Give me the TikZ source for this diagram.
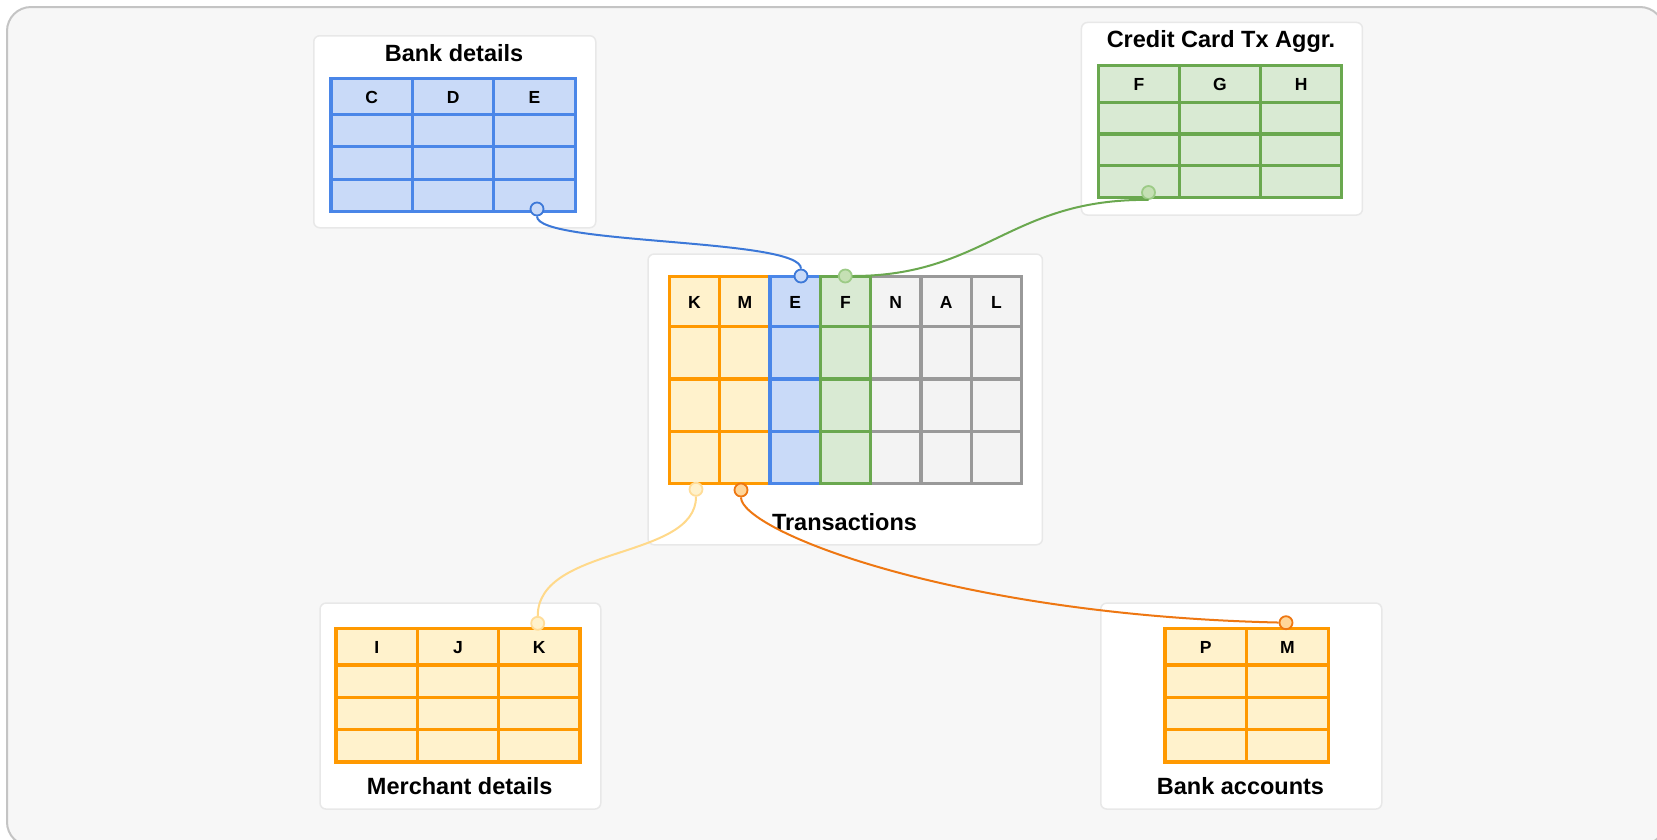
\documentclass[tikz,border=0pt]{standalone}
\usepackage{fontspec}
\setmainfont{Liberation Sans}

\definecolor{pagebg}{HTML}{F7F7F7}
\definecolor{frame}{HTML}{C4C4C4}
\definecolor{cardline}{HTML}{E8E8E8}
\definecolor{bluestroke}{HTML}{4A86E8}
\definecolor{bluefill}{HTML}{C9DAF8}
\definecolor{greenstroke}{HTML}{6AA84F}
\definecolor{greenfill}{HTML}{D9EAD3}
\definecolor{orangestroke}{HTML}{FF9900}
\definecolor{orangefill}{HTML}{FFF2CC}
\definecolor{graystroke}{HTML}{999999}
\definecolor{grayfill}{HTML}{F3F3F3}
\definecolor{linkblue}{HTML}{3C78D8}
\definecolor{linkgreen}{HTML}{6AA84F}
\definecolor{linkpale}{HTML}{FFD98A}
\definecolor{linkdark}{HTML}{EE7712}
\definecolor{dotgreenfill}{HTML}{C5E0B4}
\definecolor{dotgreenline}{HTML}{9CCB86}
\definecolor{dotpaleline}{HTML}{FFDD99}
\definecolor{dotdarkfill}{HTML}{FFD699}

\tikzset{
  card/.style={draw=cardline, line width=1.5pt, fill=white, rounded corners=6pt},
  tbl/.style={line width=3.2pt},
  title/.style={font=\fontsize{23.5}{28}\selectfont\bfseries, anchor=base, inner sep=0pt},
  colname/.style={font=\fontsize{17.5}{20}\selectfont\bfseries, inner sep=0pt},
  dot/.style={circle, minimum size=13pt, inner sep=0pt, line width=1.8pt},
  link/.style={line width=2pt},
}

% A table: x0, y0, columns, column width, header height, row height, stroke, fill
\newcommand\gridtable[8]{%
  \pgfmathsetmacro\gtW{#3*#4}%
  \pgfmathsetmacro\gtH{#5+3*#6}%
  \fill[#8] (#1,#2) rectangle ++(\gtW,\gtH);
  \foreach \k in {1,...,#3} \draw[tbl,#7] (#1+\k*#4,#2) -- ++(0,\gtH);
  \foreach \yy in {#5,#5+#6,#5+2*#6} \draw[tbl,#7] (#1,#2+\yy) -- ++(\gtW,0);
  \draw[tbl,#7] (#1,#2) rectangle ++(\gtW,\gtH);
}

\begin{document}
\begin{tikzpicture}[x=1pt,y=-1pt]
\useasboundingbox (0,0) rectangle (1657,839);
\clip (0,0) rectangle (1657,839);

% canvas
\draw[fill=pagebg, draw=frame, line width=2pt, rounded corners=24pt] (7,7) rectangle (1664,846);

% cards
\node[card, minimum width=282pt, minimum height=192pt, anchor=north west] (bdcard) at (313,35) {};
\node[card, minimum width=281pt, minimum height=192.6pt, anchor=north west] (cccard) at (1080.7,21.7) {};
\node[card, minimum width=394.4pt, minimum height=290.7pt, anchor=north west] (txcard) at (647.3,253.3) {};
\node[card, minimum width=280.7pt, minimum height=206pt, anchor=north west] (mdcard) at (319.3,602.3) {};
\node[card, minimum width=281pt, minimum height=206pt, anchor=north west] (bacard) at (1100,602.3) {};

% titles
\node[title] (bdtitle) at (454,61) {Bank details};
\node[title] (cctitle) at (1221,47.3) {Credit Card Tx Aggr.};
\node[title] (txtitle) at (844.5,530) {Transactions};
\node[title] (mdtitle) at (459.7,794) {Merchant details};
\node[title] (batitle) at (1240.5,794) {Bank accounts};

% Bank details
\gridtable{331}{78.3}{3}{81.4}{36}{32.5}{bluestroke}{bluefill}
\node[colname] (bdC) at (371.7,97.3) {C};
\node[colname] (bdD) at (453.1,97.3) {D};
\node[colname] (bdE) at (534.5,97.3) {E};

% Credit Card Tx Aggr.
\gridtable{1098.3}{65.7}{3}{81.13}{36.5}{31.83}{greenstroke}{greenfill}
\node[colname] (ccF) at (1138.9,84.7) {F};
\node[colname] (ccG) at (1220,84.7) {G};
\node[colname] (ccH) at (1301.1,84.7) {H};

% Transactions: grey, orange, blue, green column groups
\gridtable{870.66}{276.7}{3}{50.34}{50}{52.2}{graystroke}{grayfill}
\gridtable{669.3}{276.7}{2}{50.34}{50}{52.2}{orangestroke}{orangefill}
\gridtable{769.98}{276.7}{1}{50.34}{50}{52.2}{bluestroke}{bluefill}
\gridtable{820.32}{276.7}{1}{50.34}{50}{52.2}{greenstroke}{greenfill}
\node[colname] (txK) at (694.5,302.7) {K};
\node[colname] (txM) at (744.8,302.7) {M};
\node[colname] (txE) at (795.2,302.7) {E};
\node[colname] (txF) at (845.5,302.7) {F};
\node[colname] (txN) at (895.8,302.7) {N};
\node[colname] (txA) at (946.2,302.7) {A};
\node[colname] (txL) at (996.5,302.7) {L};

% Merchant details
\gridtable{336}{628.3}{3}{81.33}{36.7}{32.3}{orangestroke}{orangefill}
\node[colname] (mdI) at (376.7,647.6) {I};
\node[colname] (mdJ) at (458,647.6) {J};
\node[colname] (mdK) at (539.3,647.6) {K};

% Bank accounts
\gridtable{1165}{628.3}{2}{81.65}{36.7}{32.3}{orangestroke}{orangefill}
\node[colname] (baP) at (1205.8,647.6) {P};
\node[colname] (baM) at (1287.5,647.6) {M};

% key markers
\coordinate (bdkey) at (537,209);
\coordinate (cckey) at (1148.5,192.5);
\coordinate (txkeyE) at (801,276);
\coordinate (txkeyF) at (845.3,276);
\coordinate (txkeyK) at (696,489.3);
\coordinate (txkeyM) at (741,490);
\coordinate (mdkey) at (537.7,623.3);
\coordinate (bakey) at (1286,622.7);

\node[dot, draw=linkblue, fill=bluefill] (bddot) at (bdkey) {};
\node[dot, draw=dotgreenline, fill=dotgreenfill] (ccdot) at (cckey) {};
\node[dot, draw=linkblue, fill=bluefill] (txdotE) at (txkeyE) {};
\node[dot, draw=dotgreenline, fill=dotgreenfill] (txdotF) at (txkeyF) {};
\node[dot, draw=dotpaleline, fill=orangefill] (txdotK) at (txkeyK) {};
\node[dot, draw=linkdark, fill=dotdarkfill] (txdotM) at (txkeyM) {};
\node[dot, draw=dotpaleline, fill=orangefill] (mddot) at (mdkey) {};
\node[dot, draw=linkdark, fill=dotdarkfill] (badot) at (bakey) {};

% relations
\draw[link, linkblue] (bddot) .. controls (537,245) and (801,238) .. (txdotE);
\draw[link, linkgreen] (txdotF) .. controls (985,276) and (1010,198.5) .. (ccdot.south);
\draw[link, linkpale] (txdotK) .. controls (696,560) and (538,545) .. (mddot);
\draw[link, linkdark] (txdotM) .. controls (741,530) and (950,615) .. (badot);
\end{tikzpicture}
\end{document}
